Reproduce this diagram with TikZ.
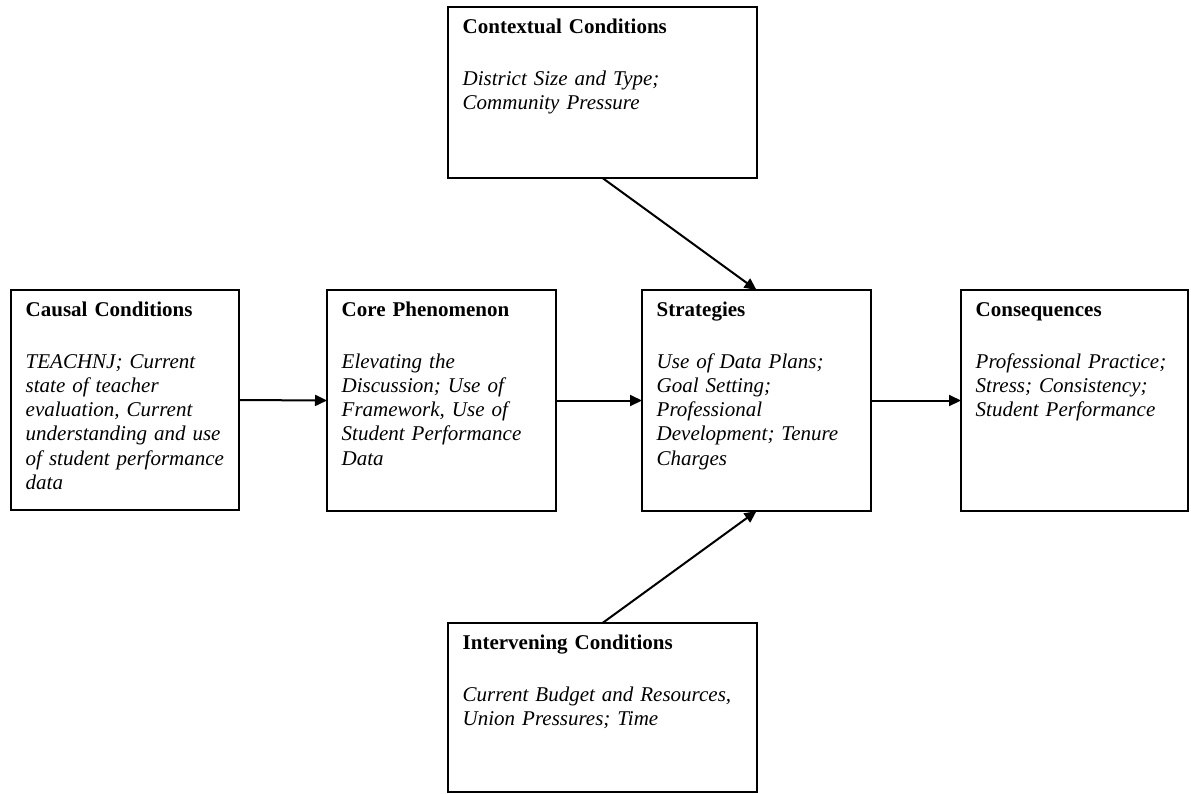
\documentclass[tikz,border=0pt]{standalone}
\usepackage{fontspec}
\setmainfont{Liberation Serif}
\usetikzlibrary{arrows.meta}
\tikzset{
  box/.style={draw=black, line width=2pt, rectangle, inner sep=0pt, outer sep=0pt, anchor=north west},
  txt/.style={anchor=north west, inner sep=0pt, align=left, text width=300pt,
              font=\fontsize{21pt}{24.2pt}\selectfont},
  arrow/.style={line width=2pt, -{Triangle[length=12pt,width=11pt]}, shorten >=0pt}
}
\newcommand{\btitle}[1]{\rule{0pt}{20pt}\textbf{#1}\\[27.8pt]\itshape}
\begin{document}
\begin{tikzpicture}[x=1pt,y=-1pt]
\useasboundingbox (0,0) rectangle (1191,793);
% boxes
\node[box, minimum width=309pt, minimum height=171pt] (ctx) at (448,7) {};
\node[box, minimum width=228pt, minimum height=220pt] (cause) at (11,290) {};
\node[box, minimum width=229pt, minimum height=221pt] (core) at (327,290) {};
\node[box, minimum width=229pt, minimum height=221pt] (strat) at (642,290) {};
\node[box, minimum width=227pt, minimum height=221pt] (cons) at (961,290) {};
\node[box, minimum width=309pt, minimum height=169pt] (inter) at (448,623) {};
% texts
\node[txt] (ctxT) at ([shift={(14.5,6)}]ctx.north west)
  {\btitle{Contextual Conditions}District Size and Type;\\Community Pressure};
\node[txt] (causeT) at ([shift={(14.5,6)}]cause.north west)
  {\btitle{Causal Conditions}TEACHNJ; Current\\state of teacher\\evaluation, Current\\understanding and use\\of student performance\\data};
\node[txt] (coreT) at ([shift={(14.5,6)}]core.north west)
  {\btitle{Core Phenomenon}Elevating the\\Discussion; Use of\\Framework, Use of\\Student Performance\\Data};
\node[txt] (stratT) at ([shift={(14.5,6)}]strat.north west)
  {\btitle{Strategies}Use of Data Plans;\\Goal Setting;\\Professional\\Development; Tenure\\Charges};
\node[txt] (consT) at ([shift={(14.5,6)}]cons.north west)
  {\btitle{Consequences}Professional Practice;\\Stress; Consistency;\\Student Performance};
\node[txt] (interT) at ([shift={(14.5,6)}]inter.north west)
  {\btitle{Intervening Conditions}Current Budget and Resources,\\Union Pressures; Time};
% arrows
\draw[arrow] (cause.east) -- (core.west);
\draw[arrow] (core.east) -- (strat.west);
\draw[arrow] (strat.east) -- (cons.west);
\draw[arrow] (ctx.south) -- (strat.north);
\draw[arrow] (inter.north) -- (strat.south);
\end{tikzpicture}
\end{document}
